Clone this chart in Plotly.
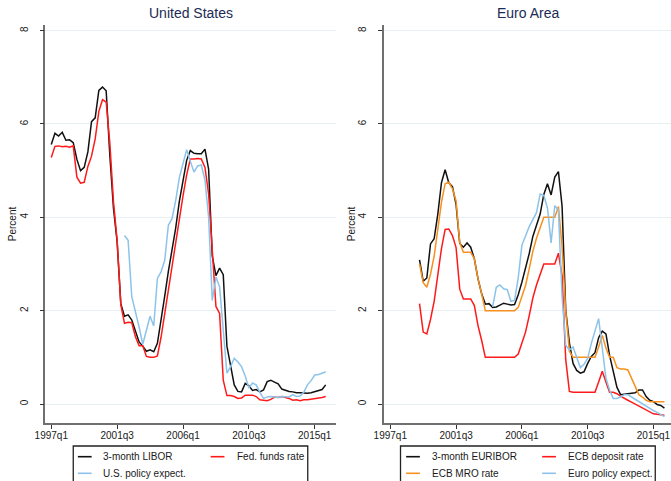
import plotly.graph_objects as go

# Quarterly calendar shared by both panels
quarters = [f"{y}q{q}" for y in range(1997, 2016) for q in range(1, 5)]
tick_labels = ["1997q1", "2001q3", "2006q1", "2010q3", "2015q1"]
y_ticks = [0, 2, 4, 6, 8]

# ---------------- United States (from 1997q1) ----------------
us_start = "1997q1"
libor = [
    5.56, 5.80, 5.74, 5.82, 5.65, 5.66, 5.60, 5.24,
    5.00, 5.07, 5.40, 6.05, 6.13, 6.72, 6.79, 6.71,
    5.33, 4.19, 3.47, 2.15, 1.88, 1.91, 1.80, 1.57,
    1.33, 1.24, 1.13, 1.16, 1.12, 1.30, 1.76, 2.31,
    2.84, 3.28, 3.77, 4.34, 4.76, 5.22, 5.43, 5.37,
    5.36, 5.36, 5.46, 5.03, 3.17, 2.75, 2.91, 2.77,
    1.24, 0.84, 0.41, 0.27, 0.26, 0.44, 0.39, 0.29,
    0.31, 0.26, 0.30, 0.48, 0.51, 0.47, 0.43, 0.32,
    0.29, 0.27, 0.26, 0.24, 0.24, 0.23, 0.23, 0.24,
    0.26, 0.28, 0.31, 0.41,
]
fed_funds = [
    5.28, 5.52, 5.53, 5.51, 5.52, 5.50, 5.53, 4.86,
    4.73, 4.75, 5.09, 5.31, 5.68, 6.27, 6.52, 6.47,
    5.59, 4.33, 3.50, 2.13, 1.73, 1.75, 1.74, 1.44,
    1.25, 1.25, 1.02, 1.00, 1.00, 1.03, 1.43, 1.95,
    2.47, 2.94, 3.46, 3.98, 4.46, 4.91, 5.25, 5.25,
    5.26, 5.25, 5.07, 4.50, 3.18, 2.09, 1.94, 0.51,
    0.18, 0.18, 0.16, 0.12, 0.13, 0.19, 0.19, 0.19,
    0.16, 0.09, 0.08, 0.07, 0.10, 0.15, 0.14, 0.16,
    0.14, 0.12, 0.08, 0.09, 0.07, 0.09, 0.09, 0.10,
    0.11, 0.13, 0.14, 0.16,
]
us_expect_start = "2002q1"
us_expect = [
    3.61, 3.51, 2.30, 2.00, 1.65, 1.28, 1.60, 1.88,
    1.67, 2.69, 2.83, 3.08, 3.83, 3.97, 4.36, 4.85,
    5.15, 5.45, 5.20, 4.97, 5.10, 5.12, 4.80, 4.00,
    2.22, 2.72, 2.51, 1.50, 0.66, 0.80, 0.98, 0.90,
    0.80, 0.60, 0.34, 0.45, 0.41, 0.25, 0.12, 0.15,
    0.16, 0.15, 0.14, 0.16, 0.16, 0.15, 0.20, 0.16,
    0.17, 0.25, 0.41, 0.50, 0.62, 0.63, 0.66, 0.69,
]

# ---------------- Euro Area (from 1999q1) ----------------
ea_start = "1999q1"
euribor = [
    3.09, 2.63, 2.70, 3.43, 3.54, 4.07, 4.74, 5.02,
    4.74, 4.66, 4.27, 3.44, 3.36, 3.45, 3.36, 3.11,
    2.68, 2.36, 2.14, 2.15, 2.07, 2.08, 2.12, 2.16,
    2.14, 2.12, 2.13, 2.34, 2.61, 2.90, 3.22, 3.59,
    3.82, 4.07, 4.49, 4.72, 4.48, 4.86, 4.98, 4.24,
    2.01, 1.31, 0.87, 0.72, 0.66, 0.69, 0.87, 1.02,
    1.10, 1.42, 1.56, 1.50, 1.04, 0.69, 0.36, 0.20,
    0.21, 0.21, 0.22, 0.24, 0.30, 0.30, 0.16, 0.08,
    0.05, -0.01, -0.03, -0.09,
]
deposit = [
    2.15, 1.54, 1.50, 1.81, 2.20, 2.80, 3.33, 3.74,
    3.75, 3.61, 3.35, 2.46, 2.25, 2.25, 2.25, 2.11,
    1.68, 1.36, 1.00, 1.00, 1.00, 1.00, 1.00, 1.00,
    1.00, 1.00, 1.00, 1.07, 1.32, 1.54, 1.89, 2.27,
    2.55, 2.80, 3.00, 3.00, 3.00, 3.00, 3.23, 2.75,
    0.95, 0.27, 0.25, 0.25, 0.25, 0.25, 0.25, 0.25,
    0.25, 0.47, 0.70, 0.47, 0.25, 0.25, 0.22, 0.17,
    0.12, 0.08, 0.04, 0.00, -0.04, -0.08, -0.12, -0.17,
    -0.21, -0.22, -0.23, -0.24,
]
mro = [
    3.00, 2.60, 2.50, 2.78, 3.17, 3.80, 4.32, 4.72,
    4.75, 4.61, 4.35, 3.46, 3.25, 3.25, 3.25, 3.11,
    2.68, 2.36, 2.00, 2.00, 2.00, 2.00, 2.00, 2.00,
    2.00, 2.00, 2.00, 2.07, 2.32, 2.54, 2.89, 3.27,
    3.55, 3.80, 4.00, 4.00, 4.00, 4.00, 4.23, 3.38,
    1.99, 1.13, 1.00, 1.00, 1.00, 1.00, 1.00, 1.00,
    1.00, 1.22, 1.47, 1.20, 1.00, 1.00, 0.78, 0.75,
    0.75, 0.73, 0.55, 0.37, 0.20, 0.15, 0.08, 0.05,
    0.05, 0.05, 0.05, 0.05,
]
ea_expect_start = "2004q1"
ea_expect = [
    2.08, 2.50, 2.55, 2.47, 2.45, 2.20, 2.22, 2.70,
    3.40, 3.60, 3.80, 3.95, 4.10, 4.50, 4.47, 4.20,
    3.45, 4.25, 4.15, 2.30, 1.26, 1.16, 1.22, 1.00,
    0.78, 0.85, 0.98, 1.30, 1.55, 1.83, 1.20, 0.55,
    0.30, 0.12, 0.12, 0.15, 0.20, 0.20, 0.15, 0.10,
    0.05, 0.00, -0.05, -0.10, -0.14, -0.18, -0.22, -0.27,
]

BLACK = "#111111"
RED = "#ff1a1a"
BLUE = "#8cc3ea"
ORANGE = "#f7901e"
FONT = "Liberation Sans, Arial, sans-serif"

W, H = 671, 481


def px_x(x):
    return x / W


def px_y(y):
    return 1 - y / H


def span(start, values):
    i = quarters.index(start)
    return quarters[i:i + len(values)]


# (label, start, values, colour) in drawing order
us_series = [
    ("3-month LIBOR", us_start, libor, BLACK),
    ("Fed. funds rate", us_start, fed_funds, RED),
    ("U.S. policy expect.", us_expect_start, us_expect, BLUE),
]
ea_series = [
    ("3-month EURIBOR", ea_start, euribor, BLACK),
    ("ECB deposit rate", ea_start, deposit, RED),
    ("ECB MRO rate", ea_start, mro, ORANGE),
    ("Euro policy expect.", ea_expect_start, ea_expect, BLUE),
]

fig = go.Figure()
for name, start, vals, col in us_series:
    fig.add_trace(go.Scatter(x=span(start, vals), y=vals, name=name, mode="lines",
                             line=dict(color=col, width=1.5), xaxis="x", yaxis="y",
                             showlegend=False))
for name, start, vals, col in ea_series:
    fig.add_trace(go.Scatter(x=span(start, vals), y=vals, name=name, mode="lines",
                             line=dict(color=col, width=1.5), xaxis="x2", yaxis="y2",
                             showlegend=False))

axis_common = dict(
    showline=True, linecolor="#707070", linewidth=1.8,
    ticks="outside", ticklen=4, tickwidth=1.1, tickcolor="#333333",
    tickfont=dict(family=FONT, size=10, color="#1a1a1a"),
    zeroline=False,
)
x_common = dict(axis_common, type="category", categoryorder="array",
                categoryarray=quarters, tickmode="array", tickvals=tick_labels,
                ticktext=tick_labels, showgrid=False, ticklabelstandoff=-2)
y_common = dict(axis_common, range=[-0.407, 8.12], tickmode="array",
                tickvals=y_ticks, tickangle=-90, showgrid=True,
                gridcolor="#e6eff1", gridwidth=1, ticklabelstandoff=8,
                title=dict(text="Percent", font=dict(family=FONT, size=10, color="#1a1a1a"),
                           standoff=0))

y_dom = [px_y(423), px_y(25)]
fig.update_layout(
    width=W, height=H, margin=dict(l=0, r=0, t=0, b=0),
    paper_bgcolor="white", plot_bgcolor="white",
    xaxis=dict(x_common, domain=[px_x(35), px_x(330)], range=[-1.6, 77.7], anchor="y"),
    yaxis=dict(y_common, domain=y_dom, anchor="x"),
    xaxis2=dict(x_common, domain=[px_x(379.3), 1.0], range=[-1.7, 76.8], anchor="y2"),
    yaxis2=dict(y_common, domain=y_dom, anchor="x2"),
    showlegend=False,
)

# Panel titles
for text, cx in [("United States", 182.5), ("Euro Area", 526)]:
    fig.add_annotation(text=text, x=px_x(cx), y=px_y(13), xref="paper", yref="paper",
                       showarrow=False, xanchor="center", yanchor="middle",
                       font=dict(family=FONT, size=14, color="#1c2b55"))


# Legend boxes drawn below each panel
def legend_box(left, right, items, text_x, sample_x, rows_y):
    fig.add_shape(type="rect", xref="paper", yref="paper",
                  x0=px_x(left), x1=px_x(right), y0=px_y(500), y1=px_y(446),
                  line=dict(color="#222222", width=1.3), fillcolor="white", layer="above")
    for k, (name, _, _, col) in enumerate(items):
        row, colm = divmod(k, 2)
        yy = rows_y[row]
        fig.add_shape(type="line", xref="paper", yref="paper",
                      x0=px_x(sample_x[colm]), x1=px_x(sample_x[colm] + 14),
                      y0=px_y(yy), y1=px_y(yy), line=dict(color=col, width=1.6))
        fig.add_annotation(text=name, x=px_x(text_x[colm]), y=px_y(yy), xref="paper",
                           yref="paper", showarrow=False, xanchor="left", yanchor="middle",
                           font=dict(family=FONT, size=10, color="#1a1a1a"))


legend_box(63.3, 301.7, us_series, [92, 227.7], [68, 203], [456.7, 473.3])
legend_box(396, 655, ea_series, [426, 564], [401.7, 540], [456.7, 473.3])

fig.write_html("out.html")
